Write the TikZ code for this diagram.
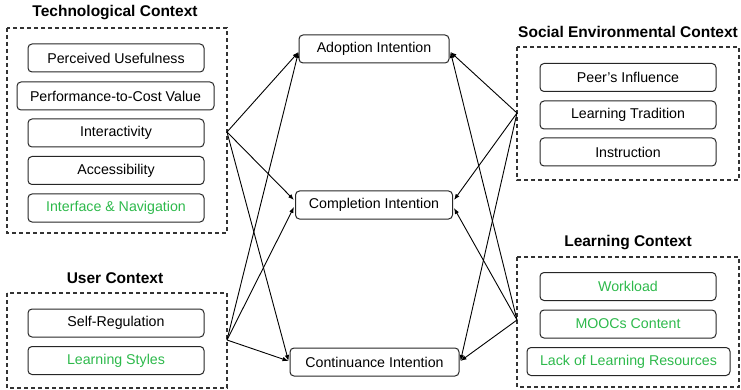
\documentclass[tikz,border=0pt]{standalone}
\usepackage{fontspec}
\setmainfont{Liberation Sans}
\usetikzlibrary{arrows.meta,calc}
\definecolor{fgreen}{RGB}{45,185,75}
\begin{document}
\begin{tikzpicture}[x=1pt,y=-1pt,
  item/.style={draw=black!85, line width=1pt, rounded corners=4pt, minimum height=28pt, inner sep=0pt, font=\fontsize{14.2}{16}\selectfont},
  grp/.style={draw=black!80, line width=1.1pt, dash pattern=on 4pt off 3pt},
  ttl/.style={font=\fontsize{15.5}{18}\selectfont\bfseries, inner sep=0pt},
  arr/.style={-{Latex[length=6pt,width=4.5pt]}, line width=0.9pt},
  gr/.style={text=fgreen}]
\useasboundingbox (0,0) rectangle (741,390);
% groups
\draw[grp] (7,28) rectangle (227,233);
\draw[grp] (517,47) rectangle (739,180);
\draw[grp] (7,293) rectangle (227,388);
\draw[grp] (517,257) rectangle (739,387);
\node[ttl] (ttech) at (115,13) {Technological Context};
\node[ttl] (tsoc) at (628,32) {Social Environmental Context};
\node[ttl] (tuser) at (115,278) {User Context};
\node[ttl] (tlearn) at (628,243) {Learning Context};
% tech items
\node[item, minimum width=176pt] (pu) at (116,58) {Perceived Usefulness};
\node[item, minimum width=197pt] (pcv) at (115.5,96) {Performance-to-Cost Value};
\node[item, minimum width=176pt] (int) at (116,133) {Interactivity};
\node[item, minimum width=176pt] (acc) at (116,170.5) {Accessibility};
\node[item, minimum width=176pt, gr] (ifn) at (116,208) {Interface \& Navigation};
% social items
\node[item, minimum width=176pt] (peer) at (628,77.5) {Peer’s Influence};
\node[item, minimum width=176pt] (lt) at (628,115) {Learning Tradition};
\node[item, minimum width=176pt] (ins) at (628,152) {Instruction};
% user items
\node[item, minimum width=176pt] (sr) at (116,323) {Self-Regulation};
\node[item, minimum width=176pt, gr] (ls) at (116,360.5) {Learning Styles};
% learning items
\node[item, minimum width=176pt, gr] (wl) at (628,286.5) {Workload};
\node[item, minimum width=176pt, gr] (mc) at (628,324) {MOOCs Content};
\node[item, minimum width=203pt, gr] (llr) at (628.5,361.5) {Lack of Learning Resources};
% outcomes
\node[item, minimum width=150pt] (adopt) at (374,49) {Adoption Intention};
\node[item, minimum width=157pt] (comp) at (374,205) {Completion Intention};
\node[item, minimum width=169pt] (cont) at (374.5,362) {Continuance Intention};
% hubs
\coordinate (htech) at (227,132);
\coordinate (hsoc) at (517,113);
\coordinate (huser) at (227,340);
\coordinate (hlearn) at (517,320);
% targets
\coordinate (aw) at ($(adopt.west)+(0,3)$);
\coordinate (ae) at ($(adopt.east)+(1,3)$);
\coordinate (cwt) at ($(comp.west)+(-1,-5)$);
\coordinate (cwu) at ($(comp.west)+(-1,2)$);
\coordinate (cet) at ($(comp.east)+(1,-5)$);
\coordinate (ceu) at ($(comp.east)+(1,3)$);
\coordinate (nw) at ($(cont.west)+(-1,-1)$);
\coordinate (ne) at ($(cont.east)+(1,-1)$);
% arrows
\draw[arr] (htech) -- (aw);
\draw[arr] (htech) -- (cwt);
\draw[arr] (htech) -- (nw);
\draw[arr] (huser) -- (aw);
\draw[arr] (huser) -- (cwu);
\draw[arr] (huser) -- (nw);
\draw[arr] (hsoc) -- (ae);
\draw[arr] (hsoc) -- (cet);
\draw[arr] (hsoc) -- (ne);
\draw[arr] (hlearn) -- (ae);
\draw[arr] (hlearn) -- (ceu);
\draw[arr] (hlearn) -- (ne);
\end{tikzpicture}
\end{document}
